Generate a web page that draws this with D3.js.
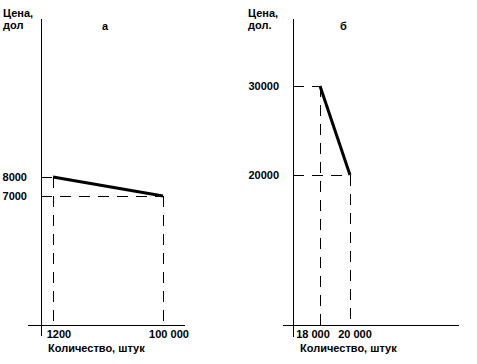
<!DOCTYPE html>
<html>
<head>
<meta charset="utf-8">
<script src="https://cdn.jsdelivr.net/npm/d3@7"></script>
<style>
  body { margin: 0; background: #fff; }
  text { font-family: "Liberation Sans", Arial, sans-serif; font-weight: bold; font-size: 11px; fill: #000; }
</style>
</head>
<body>
<div id="chart"></div>
<script>
// panel a
var qtyA = [1200, 100000];
var priceA = [8000, 7000];
var qtyLabelsA = ["1200", "100 000"];
var priceLabelsA = ["8000", "7000"];

// panel b
var qtyB = [18000, 20000];
var priceB = [30000, 20000];
var qtyLabelsB = ["18 000", "20 000"];
var priceLabelsB = ["30000", "20000"];

var yTitleA = ["Цена,", "дол"];
var yTitleB = ["Цена,", "дол."];
var xTitle = "Количество, штук";

var width = 477, height = 364;

var svg = d3.select("#chart")
  .append("svg")
    .attr("width", width)
    .attr("height", height);

// layout of each panel (pixels)
var panels = [
  { qty: qtyA, price: priceA, qtyLabels: qtyLabelsA, priceLabels: priceLabelsA,
    yTitle: yTitleA, letter: "а",
    axisX: 41, axisX0: 28, axisX1: 185, axisBottom: 336, titleX: 3,
    xRange: [53, 163], yRange: [177, 196], labelDx: [6, 6], letterX: 102 },
  { qty: qtyB, price: priceB, qtyLabels: qtyLabelsB, priceLabels: priceLabelsB,
    yTitle: yTitleB, letter: "б",
    axisX: 293, axisX0: 283, axisX1: 459, axisBottom: 337, titleX: 248,
    xRange: [320, 350], yRange: [86, 175], labelDx: [-7, 5], letterX: 340 }
];

var axisY = 325, axisTop = 19;

panels.forEach(function(p) {
  var x = d3.scaleLinear()
    .domain([p.qty[0], p.qty[1]])
    .range(p.xRange);
  var y = d3.scaleLinear()
    .domain([p.price[0], p.price[1]])
    .range(p.yRange);

  var g = svg.append("g");

  // axes
  g.append("line")
    .attr("x1", p.axisX).attr("x2", p.axisX)
    .attr("y1", axisTop).attr("y2", p.axisBottom)
    .attr("stroke", "black").attr("stroke-width", 1)
    .attr("shape-rendering", "crispEdges");
  g.append("line")
    .attr("x1", p.axisX0).attr("x2", p.axisX1)
    .attr("y1", axisY).attr("y2", axisY)
    .attr("stroke", "black").attr("stroke-width", 1)
    .attr("shape-rendering", "crispEdges");

  // dashed guides
  p.qty.forEach(function(q, i) {
    g.append("line")
      .attr("x1", p.axisX).attr("x2", x(q))
      .attr("y1", y(p.price[i])).attr("y2", y(p.price[i]))
      .attr("stroke", "black")
      .attr("shape-rendering", "crispEdges")
      .style("stroke-dasharray", "11, 8");
    g.append("line")
      .attr("x1", x(q)).attr("x2", x(q))
      .attr("y1", y(p.price[i])).attr("y2", axisY)
      .attr("stroke", "black")
      .attr("shape-rendering", "crispEdges")
      .style("stroke-dasharray", "11, 8");
  });

  // demand line
  var line = d3.line()
    .x(function(d, i) { return x(p.qty[i]); })
    .y(function(d) { return y(d); });
  g.append("path")
    .datum(p.price)
    .attr("d", line)
    .attr("fill", "none")
    .attr("stroke", "black")
    .attr("stroke-width", 3);

  // price labels
  p.price.forEach(function(v, i) {
    g.append("text")
      .text(p.priceLabels[i])
      .attr("text-anchor", "end")
      .attr("x", p.axisX - 14)
      .attr("y", y(v) + 4);
  });

  // quantity labels
  p.qty.forEach(function(q, i) {
    g.append("text")
      .text(p.qtyLabels[i])
      .attr("text-anchor", "middle")
      .attr("x", x(q) + p.labelDx[i])
      .attr("y", 338);
  });

  g.append("text")
    .text(xTitle)
    .attr("x", p.axisX + 7)
    .attr("y", 352);

  g.append("text")
    .text(p.yTitle[0])
    .attr("x", p.titleX)
    .attr("y", 17);
  g.append("text")
    .text(p.yTitle[1])
    .attr("x", p.titleX)
    .attr("y", 29);

  g.append("text")
    .text(p.letter)
    .attr("x", p.letterX)
    .attr("y", 30);
});
</script>
</body>
</html>
